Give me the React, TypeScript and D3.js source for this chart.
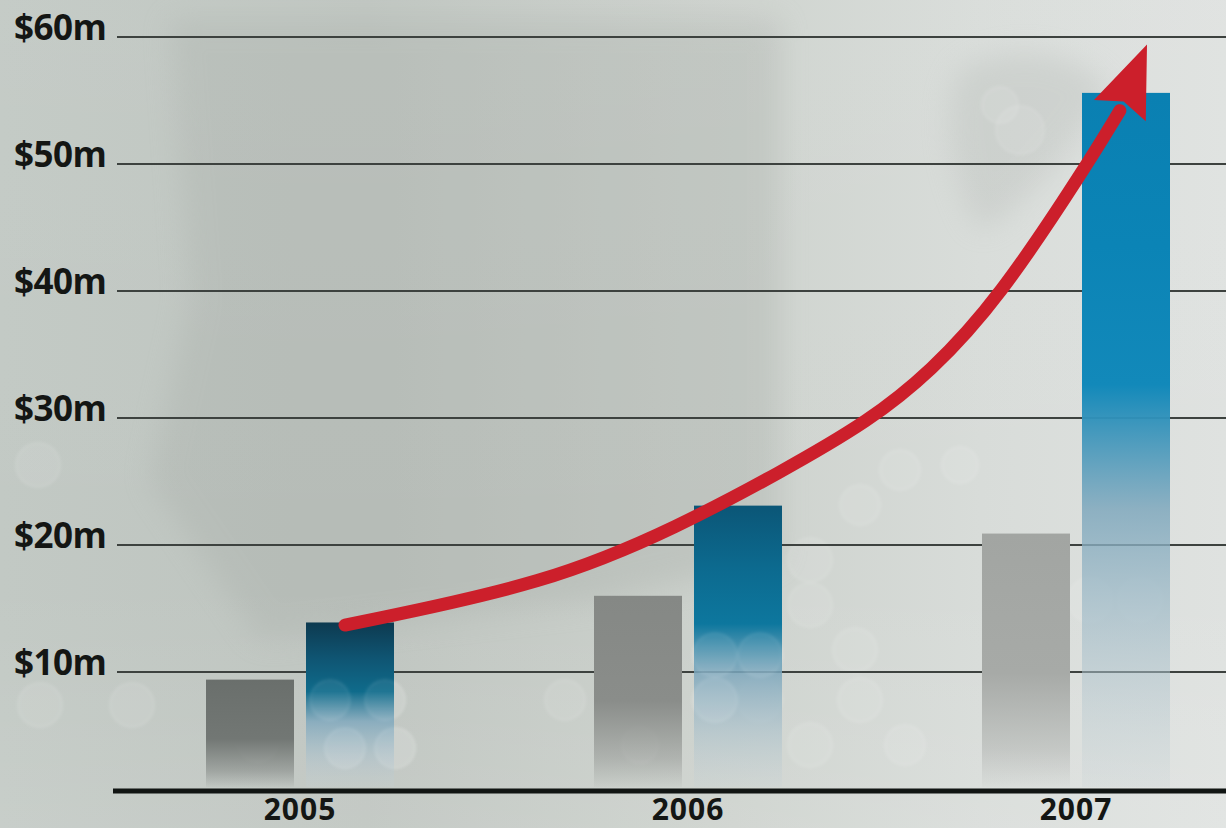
import React from "react";
import * as d3 from "d3";

const years = ["2005", "2006", "2007"];
const seriesKeys = ["prev", "curr"];
const prevValues = [9.4, 16.0, 20.9];
const currValues = [13.9, 23.1, 55.6];
const yTicks = [10, 20, 30, 40, 50, 60];
const trendYears = [2005.116, 2005.644, 2005.979, 2006.237, 2006.469, 2006.624, 2006.799, 2007.028, 2007.113];
const trendValues = [13.7, 17.0, 21.5, 25.7, 29.8, 33.6, 39.3, 49.9, 54.2];
const trendTip = { year: 2007.183, value: 59.4 };

const W = 1226;
const H = 828;

const grayStops = [
  ["#6a6f6c", "#727774"],
  ["#858885", "#8a8d8a"],
  ["#a2a5a2", "#a7aaa7"],
];
const blueStops = [
  ["#0d3a50", "#0f5573", "#0f6b8b"],
  ["#0b5677", "#0c6a8f", "#0d779e"],
  ["#0a80b2", "#0b84b6", "#1289ba"],
];

const bokeh = [
  [38, 465, 22], [40, 705, 22], [132, 705, 22], [385, 700, 20], [330, 700, 20],
  [345, 748, 20], [395, 748, 20], [715, 655, 22], [760, 655, 22], [715, 700, 22],
  [760, 700, 22], [810, 560, 22], [810, 605, 22], [860, 505, 20], [855, 650, 22],
  [860, 700, 22], [905, 745, 20], [810, 745, 22], [565, 700, 20], [900, 470, 20],
  [1140, 415, 20], [1090, 600, 22], [1140, 600, 22], [960, 465, 18], [640, 745, 18],
  [258, 705, 22], [258, 742, 20], [1020, 130, 24], [1000, 105, 18],
];

export default function App() {
  const x = d3.scaleBand().domain(years).range([106, 1270]).padding(0);
  const groupW = 188;
  const xi = d3.scaleBand().domain(seriesKeys).range([0, groupW]).paddingInner(0.12).paddingOuter(0);
  const y = d3.scaleLinear().domain([0, 60]).range([799, 37]);
  const center = (yr: string) => (x(yr) as number) + x.bandwidth() / 2;
  const xt = d3.scaleLinear().domain([2005, 2007]).range([center("2005"), center("2007")]);

  const baseY = y(0) - 8;
  const barBottom = baseY - 4;

  const pts: [number, number][] = trendYears.map((t, i) => [xt(t), y(trendValues[i])]);
  const line = d3.line().curve(d3.curveBasis);
  const trendPath = line(pts) as string;

  const base = pts[pts.length - 1];
  const tip: [number, number] = [xt(trendTip.year), y(trendTip.value)];
  const dx = tip[0] - base[0];
  const dy = tip[1] - base[1];
  const len = Math.hypot(dx, dy);
  const u = [dx / len, dy / len];
  const n = [-u[1], u[0]];
  const hw = 28;
  const head = [
    tip,
    [base[0] + n[0] * hw, base[1] + n[1] * hw],
    [base[0] + u[0] * 10, base[1] + u[1] * 10],
    [base[0] - n[0] * hw, base[1] - n[1] * hw],
  ];
  const headPath = "M" + head.map((p) => p.join(",")).join("L") + "Z";

  return (
    <svg width={W} height={H} style={{ position: "absolute", left: 0, top: 0, display: "block" }}>
      <defs>
        <linearGradient id="bg" x1="0" y1="0" x2="1" y2="0">
          <stop offset="0" stopColor="#c2c9c4" />
          <stop offset="0.3" stopColor="#bec4bf" />
          <stop offset="0.6" stopColor="#cdd2cd" />
          <stop offset="0.8" stopColor="#d8dcd9" />
          <stop offset="1" stopColor="#dfe2e0" />
        </linearGradient>
        <linearGradient id="bgv" x1="0" y1="0" x2="0" y2="1">
          <stop offset="0" stopColor="#ffffff" stopOpacity="0.05" />
          <stop offset="0.7" stopColor="#ffffff" stopOpacity="0.0" />
          <stop offset="1" stopColor="#ffffff" stopOpacity="0.1" />
        </linearGradient>
        <filter id="blur30" x="-20%" y="-20%" width="140%" height="140%">
          <feGaussianBlur stdDeviation="14" />
        </filter>
        <filter id="blur2">
          <feGaussianBlur stdDeviation="1.5" />
        </filter>
        {years.map((yr, i) => (
          <linearGradient key={"g" + yr} id={"gray" + i} x1="0" y1="0" x2="0" y2="1">
            <stop offset="0" stopColor={grayStops[i][0]} />
            <stop offset="0.55" stopColor={grayStops[i][1]} />
            <stop offset="0.85" stopColor={grayStops[i][1]} stopOpacity="0.45" />
            <stop offset="1" stopColor={grayStops[i][1]} stopOpacity="0.05" />
          </linearGradient>
        ))}
        {years.map((yr, i) => (
          <linearGradient key={"b" + yr} id={"blue" + i} x1="0" y1="0" x2="0" y2="1">
            <stop offset="0" stopColor={blueStops[i][0]} />
            <stop offset="0.22" stopColor={blueStops[i][1]} />
            <stop offset="0.42" stopColor={blueStops[i][2]} />
            <stop offset="0.6" stopColor="#7fa8bd" stopOpacity="0.85" />
            <stop offset="0.8" stopColor="#a9c0cb" stopOpacity="0.6" />
            <stop offset="1" stopColor="#c4d0d4" stopOpacity="0.2" />
          </linearGradient>
        ))}
      </defs>

      <rect x={0} y={0} width={W} height={H} fill="url(#bg)" />
      <g filter="url(#blur30)" opacity={0.35}>
        <path d="M170,20 L780,20 L780,560 L600,600 L260,640 L150,480 L190,300 Z" fill="#a8aea9" />
        <path d="M960,70 C1010,40 1080,50 1110,90 C1080,140 1030,200 980,230 C950,180 940,110 960,70 Z" fill="#b3b8b4" />
      </g>
      <rect x={0} y={0} width={W} height={H} fill="url(#bgv)" />
      <g fill="#ffffff" fillOpacity={0.08} stroke="#ffffff" strokeOpacity={0.1} strokeWidth={2} filter="url(#blur2)">
        {bokeh.map((b, i) => (
          <circle key={"bk" + i} cx={b[0]} cy={b[1]} r={b[2]} />
        ))}
      </g>

      {yTicks.map((t) => (
        <line key={"gl" + t} x1={117} x2={W} y1={y(t)} y2={y(t)} stroke="#3d423f" strokeWidth={2} />
      ))}

      {years.map((yr, i) => {
        const gx = center(yr) - groupW / 2;
        const py = y(prevValues[i]);
        const cy = y(currValues[i]);
        return (
          <g key={"bars" + yr}>
            <rect
              x={gx + (xi("prev") as number)}
              y={py}
              width={xi.bandwidth()}
              height={barBottom - py}
              fill={`url(#gray${i})`}
            />
            <rect
              x={gx + (xi("curr") as number)}
              y={cy}
              width={xi.bandwidth()}
              height={barBottom - cy}
              fill={`url(#blue${i})`}
            />
          </g>
        );
      })}

      <g fill="#ffffff" fillOpacity={0.07} stroke="#ffffff" strokeOpacity={0.08} strokeWidth={2} filter="url(#blur2)">
        {bokeh.slice(3, 10).map((b, i) => (
          <circle key={"bk2" + i} cx={b[0]} cy={b[1]} r={b[2]} />
        ))}
      </g>

      <line x1={113} x2={W} y1={baseY} y2={baseY} stroke="#111513" strokeWidth={5} />

      {yTicks.map((t) => (
        <text
          key={"yl" + t}
          x={14}
          y={y(t) + 3}
          fontFamily="'Open Sans', sans-serif"
          fontWeight={700}
          fontSize={35}
          letterSpacing={-0.5}
          fill="#141614"
        >
          {"$" + t + "m"}
        </text>
      ))}

      {years.map((yr) => (
        <text
          key={"xl" + yr}
          x={center(yr)}
          y={820}
          textAnchor="middle"
          fontFamily="'Open Sans', sans-serif"
          fontWeight={700}
          fontSize={30}
          letterSpacing={1}
          fill="#141614"
        >
          {yr}
        </text>
      ))}

      <path d={trendPath} fill="none" stroke="#cc1f2b" strokeWidth={13} strokeLinecap="round" strokeLinejoin="round" />
      <path d={headPath} fill="#cc1f2b" />
    </svg>
  );
}
